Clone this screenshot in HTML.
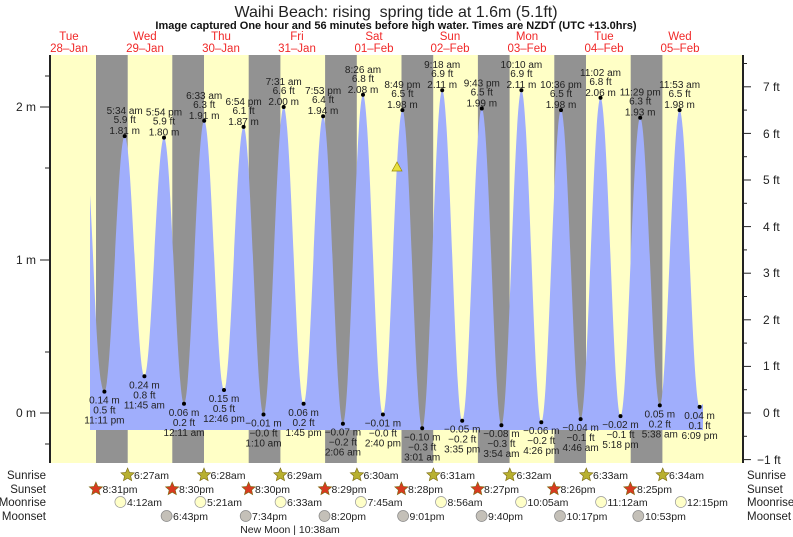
<!DOCTYPE html>
<html><head><meta charset="utf-8"><style>
body{margin:0;background:#fff;}
svg{display:block;font-family:"Liberation Sans",sans-serif;}
.t{font-size:10px;fill:#222;text-anchor:middle}
.d{font-size:11.5px;fill:#f02828;text-anchor:middle}
.ax{font-size:12px;fill:#222}
.r{font-size:11.5px;fill:#222}
</style></head><body>
<svg width="793" height="537" viewBox="0 0 793 537">
<defs>
<polygon id="st" points="0,-7 1.88,-2.59 6.66,-2.16 3.04,0.99 4.11,5.66 0,3.2 -4.11,5.66 -3.04,0.99 -6.66,-2.16 -1.88,-2.59"/>
</defs>
<text x="396" y="17" style="font-size:16px;fill:#222;text-anchor:middle">Waihi Beach: rising&#160; spring tide at 1.6m (5.1ft)</text>
<text x="396" y="29" style="font-size:11px;font-weight:bold;fill:#111;text-anchor:middle">Image captured One hour and 56 minutes before high water. Times are NZDT (UTC +13.0hrs)</text>
<g class="d">
<text x="69" y="40">Tue</text><text x="69" y="52">28–Jan</text>
<text x="145" y="40">Wed</text><text x="145" y="52">29–Jan</text>
<text x="221" y="40">Thu</text><text x="221" y="52">30–Jan</text>
<text x="297" y="40">Fri</text><text x="297" y="52">31–Jan</text>
<text x="374" y="40">Sat</text><text x="374" y="52">01–Feb</text>
<text x="450" y="40">Sun</text><text x="450" y="52">02–Feb</text>
<text x="527" y="40">Mon</text><text x="527" y="52">03–Feb</text>
<text x="604" y="40">Tue</text><text x="604" y="52">04–Feb</text>
<text x="680" y="40">Wed</text><text x="680" y="52">05–Feb</text>
</g>
<rect x="50" y="55" width="693" height="408" fill="#ffffc6"/>
<g fill="#929292">
<rect x="96" y="55" width="31.7" height="408"/>
<rect x="172.3" y="55" width="31.7" height="408"/>
<rect x="248.7" y="55" width="31.7" height="408"/>
<rect x="325.1" y="55" width="31.7" height="408"/>
<rect x="401.5" y="55" width="31.7" height="408"/>
<rect x="477.9" y="55" width="31.7" height="408"/>
<rect x="554.3" y="55" width="31.7" height="408"/>
<rect x="630.7" y="55" width="31.7" height="408"/>
</g>
<path fill="#a0aefc" d="M90,430 L90,195 C94,260 97,391.6 104.4,391.6 C111.7,391.6 117.4,136.1 124.7,136.1 C131.8,136.1 137.3,376.3 144.4,376.3 C151.5,376.3 156.9,137.6 164,137.6 C171.2,137.6 176.8,403.8 184,403.8 C191.3,403.8 196.9,120.8 204.2,120.8 C211.3,120.8 216.9,390 224,390 C231.1,390 236.5,126.9 243.6,126.9 C250.8,126.9 256.3,414.5 263.5,414.5 C270.8,414.5 276.4,107 283.7,107 C290.9,107 296.4,403.8 303.6,403.8 C310.6,403.8 316.1,116.2 323.1,116.2 C330.2,116.2 335.8,423.7 342.9,423.7 C350.1,423.7 355.8,94.8 363,94.8 C370.2,94.8 375.7,414.5 382.9,414.5 C389.9,414.5 395.4,110.1 402.4,110.1 C409.5,110.1 415.1,428.3 422.2,428.3 C429.4,428.3 435,90.2 442.2,90.2 C449.4,90.2 455,420.7 462.2,420.7 C469.3,420.7 474.7,108.5 481.8,108.5 C488.9,108.5 494.3,425.2 501.4,425.2 C508.6,425.2 514.2,90.2 521.4,90.2 C528.6,90.2 534.1,422.2 541.3,422.2 C548.4,422.2 553.9,110.1 561,110.1 C568.1,110.1 573.5,419.1 580.6,419.1 C587.8,419.1 593.3,97.8 600.5,97.8 C607.7,97.8 613.3,416.1 620.5,416.1 C627.6,416.1 633.1,117.7 640.2,117.7 C647.3,117.7 652.7,405.4 659.8,405.4 C666.9,405.4 672.5,110.1 679.6,110.1 C686.8,110.1 692.4,406.9 699.6,406.9 L703,404 L703,430 Z"/>
<g stroke="#222" stroke-width="2" fill="none">
<line x1="50" y1="55" x2="50" y2="463"/>
<line x1="743" y1="55" x2="743" y2="463"/>
</g>
<g stroke="#222" stroke-width="1">
<line x1="40" y1="107" x2="50" y2="107"/><line x1="40" y1="260" x2="50" y2="260"/><line x1="40" y1="413" x2="50" y2="413"/>
<line x1="45" y1="76" x2="50" y2="76"/><line x1="45" y1="168" x2="50" y2="168"/><line x1="45" y1="352" x2="50" y2="352"/><line x1="45" y1="444" x2="50" y2="444"/>
<line x1="743" y1="86.8" x2="751" y2="86.8"/><line x1="743" y1="133.4" x2="751" y2="133.4"/><line x1="743" y1="180" x2="751" y2="180"/><line x1="743" y1="226.6" x2="751" y2="226.6"/><line x1="743" y1="273.2" x2="751" y2="273.2"/><line x1="743" y1="319.8" x2="751" y2="319.8"/><line x1="743" y1="366.4" x2="751" y2="366.4"/><line x1="743" y1="413" x2="751" y2="413"/><line x1="743" y1="459.6" x2="751" y2="459.6"/>
<line x1="743" y1="63.5" x2="747" y2="63.5"/><line x1="743" y1="110.1" x2="747" y2="110.1"/><line x1="743" y1="156.7" x2="747" y2="156.7"/><line x1="743" y1="203.3" x2="747" y2="203.3"/><line x1="743" y1="249.9" x2="747" y2="249.9"/><line x1="743" y1="296.5" x2="747" y2="296.5"/><line x1="743" y1="343.1" x2="747" y2="343.1"/><line x1="743" y1="389.7" x2="747" y2="389.7"/><line x1="743" y1="436.3" x2="747" y2="436.3"/>
</g>
<g class="ax" text-anchor="end">
<text x="36" y="111">2 m</text><text x="36" y="264">1 m</text><text x="36" y="417">0 m</text>
</g>
<g class="ax">
<text x="763" y="91">7 ft</text><text x="763" y="138">6 ft</text><text x="763" y="184">5 ft</text><text x="763" y="231">4 ft</text><text x="763" y="277">3 ft</text><text x="763" y="324">2 ft</text><text x="763" y="370">1 ft</text><text x="763" y="417">0 ft</text><text x="757" y="464">−1 ft</text>
</g>
<polygon points="397,162 392,171 402,171" fill="#e8e040" stroke="#998800" stroke-width="0.7"/>
<g fill="#000">
<circle cx="104.4" cy="391.6" r="2"/><circle cx="124.7" cy="136.1" r="2"/><circle cx="144.4" cy="376.3" r="2"/><circle cx="164" cy="137.6" r="2"/><circle cx="184" cy="403.8" r="2"/><circle cx="204.2" cy="120.8" r="2"/><circle cx="224" cy="390" r="2"/><circle cx="243.6" cy="126.9" r="2"/><circle cx="263.5" cy="414.5" r="2"/><circle cx="283.7" cy="107" r="2"/><circle cx="303.6" cy="403.8" r="2"/><circle cx="323.1" cy="116.2" r="2"/><circle cx="342.9" cy="423.7" r="2"/><circle cx="363" cy="94.8" r="2"/><circle cx="382.9" cy="414.5" r="2"/><circle cx="402.4" cy="110.1" r="2"/><circle cx="422.2" cy="428.3" r="2"/><circle cx="442.2" cy="90.2" r="2"/><circle cx="462.2" cy="420.7" r="2"/><circle cx="481.8" cy="108.5" r="2"/><circle cx="501.4" cy="425.2" r="2"/><circle cx="521.4" cy="90.2" r="2"/><circle cx="541.3" cy="422.2" r="2"/><circle cx="561" cy="110.1" r="2"/><circle cx="580.6" cy="419.1" r="2"/><circle cx="600.5" cy="97.8" r="2"/><circle cx="620.5" cy="416.1" r="2"/><circle cx="640.2" cy="117.7" r="2"/><circle cx="659.8" cy="405.4" r="2"/><circle cx="679.6" cy="110.1" r="2"/><circle cx="699.6" cy="406.9" r="2"/>
</g>
<g class="t">
<text x="124.7" y="114">5:34 am</text><text x="124.7" y="123">5.9 ft</text><text x="124.7" y="134">1.81 m</text>
<text x="164" y="115.5">5:54 pm</text><text x="164" y="124.5">5.9 ft</text><text x="164" y="135.5">1.80 m</text>
<text x="204.2" y="98.8">6:33 am</text><text x="204.2" y="107.8">6.3 ft</text><text x="204.2" y="118.8">1.91 m</text>
<text x="243.6" y="104.9">6:54 pm</text><text x="243.6" y="113.9">6.1 ft</text><text x="243.6" y="124.9">1.87 m</text>
<text x="283.7" y="85">7:31 am</text><text x="283.7" y="94">6.6 ft</text><text x="283.7" y="105">2.00 m</text>
<text x="323.1" y="94.2">7:53 pm</text><text x="323.1" y="103.2">6.4 ft</text><text x="323.1" y="114.2">1.94 m</text>
<text x="363" y="72.8">8:26 am</text><text x="363" y="81.8">6.8 ft</text><text x="363" y="92.8">2.08 m</text>
<text x="402.4" y="88.1">8:49 pm</text><text x="402.4" y="97.1">6.5 ft</text><text x="402.4" y="108.1">1.98 m</text>
<text x="442.2" y="68.2">9:18 am</text><text x="442.2" y="77.2">6.9 ft</text><text x="442.2" y="88.2">2.11 m</text>
<text x="481.8" y="86.5">9:43 pm</text><text x="481.8" y="95.5">6.5 ft</text><text x="481.8" y="106.5">1.99 m</text>
<text x="521.4" y="68.2">10:10 am</text><text x="521.4" y="77.2">6.9 ft</text><text x="521.4" y="88.2">2.11 m</text>
<text x="561" y="88.1">10:36 pm</text><text x="561" y="97.1">6.5 ft</text><text x="561" y="108.1">1.98 m</text>
<text x="600.5" y="75.8">11:02 am</text><text x="600.5" y="84.8">6.8 ft</text><text x="600.5" y="95.8">2.06 m</text>
<text x="640.2" y="95.7">11:29 pm</text><text x="640.2" y="104.7">6.3 ft</text><text x="640.2" y="115.7">1.93 m</text>
<text x="679.6" y="88.1">11:53 am</text><text x="679.6" y="97.1">6.5 ft</text><text x="679.6" y="108.1">1.98 m</text>
<text x="104.4" y="403.6">0.14 m</text><text x="104.4" y="413.6">0.5 ft</text><text x="104.4" y="423.6">11:11 pm</text>
<text x="144.4" y="388.3">0.24 m</text><text x="144.4" y="398.3">0.8 ft</text><text x="144.4" y="408.3">11:45 am</text>
<text x="184" y="415.8">0.06 m</text><text x="184" y="425.8">0.2 ft</text><text x="184" y="435.8">12:11 am</text>
<text x="224" y="402">0.15 m</text><text x="224" y="412">0.5 ft</text><text x="224" y="422">12:46 pm</text>
<text x="263.5" y="426.5">−0.01 m</text><text x="263.5" y="436.5">−0.0 ft</text><text x="263.5" y="446.5">1:10 am</text>
<text x="303.6" y="415.8">0.06 m</text><text x="303.6" y="425.8">0.2 ft</text><text x="303.6" y="435.8">1:45 pm</text>
<text x="342.9" y="435.7">−0.07 m</text><text x="342.9" y="445.7">−0.2 ft</text><text x="342.9" y="455.7">2:06 am</text>
<text x="382.9" y="426.5">−0.01 m</text><text x="382.9" y="436.5">−0.0 ft</text><text x="382.9" y="446.5">2:40 pm</text>
<text x="422.2" y="440.3">−0.10 m</text><text x="422.2" y="450.3">−0.3 ft</text><text x="422.2" y="460.3">3:01 am</text>
<text x="462.2" y="432.7">−0.05 m</text><text x="462.2" y="442.7">−0.2 ft</text><text x="462.2" y="452.7">3:35 pm</text>
<text x="501.4" y="437.2">−0.08 m</text><text x="501.4" y="447.2">−0.3 ft</text><text x="501.4" y="457.2">3:54 am</text>
<text x="541.3" y="434.2">−0.06 m</text><text x="541.3" y="444.2">−0.2 ft</text><text x="541.3" y="454.2">4:26 pm</text>
<text x="580.6" y="431.1">−0.04 m</text><text x="580.6" y="441.1">−0.1 ft</text><text x="580.6" y="451.1">4:46 am</text>
<text x="620.5" y="428.1">−0.02 m</text><text x="620.5" y="438.1">−0.1 ft</text><text x="620.5" y="448.1">5:18 pm</text>
<text x="659.8" y="417.4">0.05 m</text><text x="659.8" y="427.4">0.2 ft</text><text x="659.8" y="437.4">5:38 am</text>
<text x="699.6" y="418.9">0.04 m</text><text x="699.6" y="428.9">0.1 ft</text><text x="699.6" y="438.9">6:09 pm</text>
</g>
<g class="r" text-anchor="end">
<text x="46" y="479">Sunrise</text><text x="46" y="493">Sunset</text><text x="46" y="506">Moonrise</text><text x="46" y="520">Moonset</text>
</g>
<g class="r">
<text x="747" y="479">Sunrise</text><text x="747" y="493">Sunset</text><text x="747" y="506">Moonrise</text><text x="747" y="520">Moonset</text>
</g>
<g fill="#b8b030" stroke="#7a6a10" stroke-width="0.6">
<use href="#st" x="127.6" y="475"/><use href="#st" x="204" y="475"/><use href="#st" x="280.4" y="475"/><use href="#st" x="356.9" y="475"/><use href="#st" x="433.4" y="475"/><use href="#st" x="509.8" y="475"/><use href="#st" x="586.3" y="475"/><use href="#st" x="662.7" y="475"/>
</g>
<g fill="#d83a20" stroke="#7a6a10" stroke-width="0.6">
<use href="#st" x="95.9" y="489"/><use href="#st" x="172.2" y="489"/><use href="#st" x="248.6" y="489"/><use href="#st" x="325" y="489"/><use href="#st" x="401.4" y="489"/><use href="#st" x="477.7" y="489"/><use href="#st" x="554.1" y="489"/><use href="#st" x="630.4" y="489"/>
</g>
<g fill="#ffffc8" stroke="#999" stroke-width="0.7">
<circle cx="120.4" cy="502" r="5.5"/><circle cx="200.4" cy="502" r="5.5"/><circle cx="280.6" cy="502" r="5.5"/><circle cx="360.9" cy="502" r="5.5"/><circle cx="441" cy="502" r="5.5"/><circle cx="521.1" cy="502" r="5.5"/><circle cx="601.1" cy="502" r="5.5"/><circle cx="680.8" cy="502" r="5.5"/>
</g>
<g fill="#c4c0b8" stroke="#888" stroke-width="0.7">
<circle cx="166.6" cy="516" r="5.5"/><circle cx="245.7" cy="516" r="5.5"/><circle cx="324.5" cy="516" r="5.5"/><circle cx="403.1" cy="516" r="5.5"/><circle cx="481.6" cy="516" r="5.5"/><circle cx="560" cy="516" r="5.5"/><circle cx="638.3" cy="516" r="5.5"/>
</g>
<g style="font-size:10.5px;fill:#222">
<text x="134" y="479">6:27am</text><text x="210.5" y="479">6:28am</text><text x="287" y="479">6:29am</text><text x="363.5" y="479">6:30am</text><text x="440" y="479">6:31am</text><text x="516.5" y="479">6:32am</text><text x="593" y="479">6:33am</text><text x="669" y="479">6:34am</text>
<text x="102.5" y="493">8:31pm</text><text x="179" y="493">8:30pm</text><text x="255" y="493">8:30pm</text><text x="331.5" y="493">8:29pm</text><text x="408" y="493">8:28pm</text><text x="484" y="493">8:27pm</text><text x="560.5" y="493">8:26pm</text><text x="637" y="493">8:25pm</text>
<text x="127" y="506">4:12am</text><text x="207" y="506">5:21am</text><text x="287" y="506">6:33am</text><text x="367.5" y="506">7:45am</text><text x="447.5" y="506">8:56am</text><text x="527.5" y="506">10:05am</text><text x="607.5" y="506">11:12am</text><text x="687" y="506">12:15pm</text>
<text x="173" y="520">6:43pm</text><text x="252" y="520">7:34pm</text><text x="331" y="520">8:20pm</text><text x="409.5" y="520">9:01pm</text><text x="488" y="520">9:40pm</text><text x="566.5" y="520">10:17pm</text><text x="645" y="520">10:53pm</text>
<text x="290" y="533" text-anchor="middle">New Moon | 10:38am</text>
</g>
</svg>
</body></html>
